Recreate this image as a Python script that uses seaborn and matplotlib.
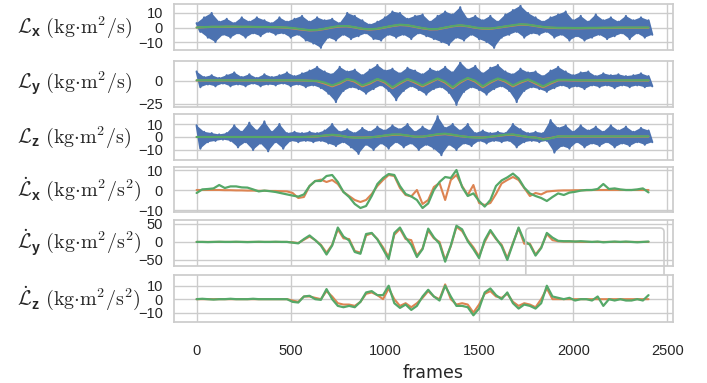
import numpy as np
import pandas as pd
import matplotlib
matplotlib.use("Agg")
import matplotlib.pyplot as plt
from matplotlib.patches import FancyBboxPatch
import seaborn as sns

frames_up = list(range(0, 2401, 40))      # upper edge of the noisy raw signal
frames_lo = list(range(20, 2421, 40))     # lower edge of the noisy raw signal
frames_smooth = list(range(0, 2401, 40))  # smoothed momentum curves
frames_deriv = list(range(0, 2401, 30))   # derivative curves

# L_x
lx_up = [3, 7, 10, 4, 6, 3, 7, 4, 7, 5, 3, 7, 4, 6, 8, 4, 7, 5, 6, 3, 10, 8, 5, 2, 4, 7, 11, 10, 6, 8,
         9, 4, 8, 11, 9, 14, 6, 8, 5, 8, 4, 9, 12, 15, 10, 7, 4, 7, 9, 11, 5, 8, 4, 9, 5, 7, 4, 8, 5, 7, 5]
lx_lo = [-3, -7, -10, -5, -7, -4, -7, -4, -6, -3, -5, -4, -7, -5, -9, -11, -14, -7, -9, -5, -8, -6, -4, -8,
         -9, -5, -7, -5, -8, -4, -6, -8, -10, -12, -7, -9, -5, -8, -10, -14, -7, -5, -3, -7, -4, -5, -3, -7,
         -5, -9, -6, -9, -7, -5, -8, -6, -4, -8, -4, -7, -5]
lx_orange = [0, 0.2, 0.4, 0.4, 0.5, 0.5, 0.4, 0.4, 0.3, 0.3, 0.2, 0.1, -0.2, -0.8, -1.5, -2, -1.8, -1, 0, 0.7,
             0.8, 0, -1, -1.4, -1, 0, 1, 1.7, 1.4, 0.4, -0.6, -1.3, -1.2, -0.2, 0.8, 1.4, 0.8, -0.2, -0.8, -0.9,
             -0.2, 0.6, 1.3, 2, 1.8, 1, 0.2, -0.2, -0.4, -0.4, -0.5, -0.5, -0.4, -0.4, -0.3, -0.3, -0.2, -0.2,
             -0.2, -0.2, -0.2]
lx_green = [0, 0.3, 0.5, 0.5, 0.6, 0.6, 0.5, 0.5, 0.4, 0.4, 0.3, 0.2, 0, -0.5, -1.2, -1.8, -1.6, -0.8, 0.3, 1,
            1, 0.2, -0.8, -1.2, -0.8, 0.2, 1.2, 2, 1.6, 0.6, -0.4, -1.1, -1, 0, 1, 1.6, 1, 0, -0.6, -0.7,
            0, 0.8, 1.6, 2.3, 2, 1.2, 0.4, 0, -0.2, -0.2, -0.3, -0.3, -0.2, -0.2, -0.1, -0.1, 0, 0, 0, 0, 0]

# L_y
ly_up = [10, 4, 6, 3, 6, 9, 4, 7, 3, 7, 4, 6, 9, 5, 8, 11, 15, 10, 7, 15, 10, 12, 6, 12, 17, 11, 13, 8, 14, 11,
         7, 13, 10, 15, 9, 20, 12, 16, 8, 14, 17, 10, 7, 13, 9, 10, 5, 11, 15, 10, 6, 9, 10, 5, 8, 6, 7, 5, 6, 8, 5]
ly_lo = [-7, -4, -6, -3, -6, -4, -6, -3, -6, -4, -5, -3, -6, -4, -7, -5, -8, -14, -23, -11, -7, -9, -14, -9,
         -5, -11, -21, -11, -6, -10, -15, -9, -7, -13, -26, -12, -7, -10, -15, -9, -6, -11, -23, -11, -7, -9,
         -12, -8, -5, -8, -6, -9, -5, -7, -5, -8, -5, -7, -5, -7, -6]
ly_orange = [0.3] * 15 + [0, -0.5, -3, -6, -3, 1.5, -1, -6, -3, 1.5, -2, -8, -3, 1.5, -2, -6, -2, 2, -2, -8, -2,
                          2.5, -1, -7, -2, 2, -1, -6, -2, 1, -3, -7, -3, 0.5] + \
            [0.5, 0.3, 0.2, 0.2, 0.2, 0.2, 0.2, 0.2, 0.2, 0.2, 0.2, 0.2]
ly_green = [0.5] * 15 + [0, 0, -2, -5, -2, 2, 0, -5, -2, 2, -1, -7, -2, 2, -1, -5, -1, 2.5, -1, -7, -1, 3, 0,
                         -6, -1, 2.5, 0, -5, -1, 1.5, -2, -6, -2, 1] + \
           [1, 0.8, 0.5, 0.5, 0.5, 0.5, 0.5, 0.5, 0.5, 0.5, 0.5, 0.5]

# L_z
lz_up = [9, 4, 3, 2, 3, 9, 4, 11, 5, 12, 4, 10, 3, 4, 3, 4, 3, 5, 10, 4, 6, 3, 7, 4, 8, 5, 9, 6, 10, 4,
         8, 5, 16, 7, 10, 5, 10, 3, 5, 3, 4, 3, 10, 6, 3, 4, 3, 13, 7, 9, 4, 9, 5, 8, 4, 9, 5, 8, 4, 7, 5]
lz_lo = [-9, -4, -3, -2, -3, -8, -4, -10, -5, -11, -4, -9, -3, -4, -3, -4, -3, -5, -7, -4, -8, -13, -6, -10,
         -5, -9, -4, -8, -5, -10, -6, -9, -14, -6, -10, -5, -7, -3, -5, -3, -4, -3, -8, -4, -3, -4, -3, -12,
         -7, -9, -4, -8, -5, -7, -4, -8, -5, -7, -4, -6, -4]
lz_orange = [0] * 15 + [0.1, 0.4, 1, 1.5, 1, 0, -0.4, -0.4, -0.2, 0.2, 1, 1.6, 1.7, 1, 0.2, 0.2, 1, 1.8, 2.2,
                        1.5, 0.6, 0, -0.3, -0.4, 0.1, 0.8, 1.5, 1.7, 0.8, 0, -0.4, -1.6, -0.8, 0.4] + [0.3] * 12
lz_green = [0] * 15 + [0.2, 0.5, 1.2, 1.8, 1.2, 0, -0.5, -0.5, -0.3, 0.3, 1.2, 2, 2, 1.2, 0.2, 0.3, 1.2, 2.2,
                       2.6, 1.8, 0.8, 0, -0.4, -0.5, 0.2, 1, 1.8, 2, 1, 0, -0.5, -2, -1, 0.5] + [0.5] * 12

# dL_x/dt
dlx_orange = [0, 0, 0, 0, 0, -0.1, -0.1, -0.2, -0.2, -0.3, -0.3, -0.4, -0.4, -0.5, -0.5, -0.6, -0.7,
              -1.5, -4, -3.5, 2, 4.5, 5.2, 4, 5, 3, -1, -3, -5, -6, -5, -2, 2, 5, 7.5, 7, 1, -2.5, -3.2, 0,
              -7, -5, 1.5, 3.5, -5, 5, 7.5, 2, -2.5, 2.5, -6.5, -7.5, -6.5, -2, 3.3, 5, 6.5, 5, 1, -3, -1.5,
              -2.2, -0.8, -0.5, -0.3,
              -0.2, -0.2, -0.1, -0.1, -0.1, 0, 0, 0, 0, 0, 0, 0, 0, 0, 0, 0]
dlx_green = [-1.5, 0.3, 0.5, 0.8, 2.5, 1, 1.8, 1.8, 1.3, 1.2, 0.3, -0.7, -0.3, -0.6, -1, -1.6, -2.2, -2.8,
             -3.3, -2.2, 2, 4.5, 4.5, 7, 7.5, 4, -1, -3.5, -7, -9, -8, -3, 3, 6, 8, 7.5, 2, -2, -3.2, -5, -9,
             -6.7, 0, 4, 6.5, 6, 10, 1.5, -3, -1.7, -5.5, -8.3, -5, 2, 4.8, 6.3, 8.2, 5.8, 1.2, -1.7, -3, -4,
             -5.5, -3.5, -1.7, -2.5, -1.3, -0.9, -0.3, 0, 0, 0.5, 3, 0.5, 0.8, 0.3, 0, 0, 0.3, 0.8, -1.2]

# dL_y/dt
dly_orange = [0] * 17 + [-1, -3, 6, 15, 5, -8, -30, -8, 35, 10, 8, -25, -30, 18, 24, 8, -15, -42, 20, 36, 8, 5,
                         -38, -18, 32, 10, 0, -50, -12, 42, 30, 5, -15, -40, 0, 30, 8, -8, -45, -3, 38, -5, -5,
                         -35, -15, 22, 5, 2] + [1, 1, 1, 0, 0, 0, 0, 0, 0, 0, 0, 0, 0, 0, 0, 0]
dly_green = [0, 0, -0.5, 0, 0.5, 0, 0, 0.5, 0, -0.5, 0, 0.5, 0, 0, 0.5, 0, 0] + \
            [-2, -4, 8, 18, 5, -10, -35, -10, 40, 15, 4, -28, -33, 22, 25, 7, -20, -48, 25, 40, 12, -8, -42,
             -20, 37, 13, -5, -55, -10, 45, 35, 2, -20, -45, 5, 33, 10, -12, -50, -5, 40, 3, -8, -38, -17, 25,
             12, 3] + [2, 2, 1, 2, 1, 0, 1, -1, 0, 1, 0, 1, 0, -1, 0, 1]

# dL_z/dt
dlz_orange = [0] * 17 + [-1, -2, 2, 2, 1, 0, 6, 2, -3, -4, -4, -5, -2, 4, 5, 3, 0, 8, 0, -5, -3, -6, -3, 1, 6,
                         2, 0, 11, 0, -4, -3, -4, -10, -4, 4, 6, 2, 1, 4, -2, -5, -3, -4, -6, 0, 8, 0, 0] + [0] * 16
dlz_green = [0, 0.3, 0, -0.3, 0, 0, 0.3, 0, 0, 0, 0.3, 0, 0, 0, 0, 0, 0] + \
            [-2, -2.5, 2, 2.5, 0, -0.5, 7.5, 0, -5, -6, -5, -6, -2, 5, 6, 3, 3, 10, -3, -6.5, -4, -8, -5, 2, 7,
             2, -1, 10, 2, -5, -5, -6, -12, -7, 5, 8, 3, 0, 5, -3, -7, -4, -5, -7, -3, 10, 2, 1] + \
            [0, 1, -1, 0, 0, -1, 2, -5, 0, -1, 0, -1, -1, 0, -1, 3]

labels = [
    r'$\mathcal{L}_{\mathbf{x}}\ (\mathrm{kg{\cdot}m^2/s})$',
    r'$\mathcal{L}_{\mathbf{y}}\ (\mathrm{kg{\cdot}m^2/s})$',
    r'$\mathcal{L}_{\mathbf{z}}\ (\mathrm{kg{\cdot}m^2/s})$',
    r'$\dot{\mathcal{L}}_{\mathbf{x}}\ (\mathrm{kg{\cdot}m^2/s^2})$',
    r'$\dot{\mathcal{L}}_{\mathbf{y}}\ (\mathrm{kg{\cdot}m^2/s^2})$',
    r'$\dot{\mathcal{L}}_{\mathbf{z}}\ (\mathrm{kg{\cdot}m^2/s^2})$',
]

sns.set_theme(style='whitegrid')
plt.rcParams['font.family'] = ['Liberation Sans', 'DejaVu Sans']
plt.rcParams['mathtext.fontset'] = 'custom'
plt.rcParams['mathtext.rm'] = 'cmr10'
plt.rcParams['mathtext.cal'] = 'cmsy10'
plt.rcParams['mathtext.bf'] = 'Liberation Sans:bold'
plt.rcParams['xtick.labelsize'] = 10.5
plt.rcParams['ytick.labelsize'] = 10.5

blue, orange, green = sns.color_palette('deep')[:3]

W, H = 707, 383
panels_px = [(4, 50), (61, 107), (114, 160), (167, 212), (220, 266), (275, 322)]
ylims = [(-15.5, 16.2), (-28.3, 21.3), (-17.7, 17.7), (-11, 11.5), (-67, 61), (-17, 18)]
yticks = [[-10, 0, 10], [-25, 0], [-10, 0, 10], [-10, 0, 10], [-50, 0, 50], [-10, 0, 10]]

fig = plt.figure(figsize=(W / 100, H / 100), dpi=100)
axes = []
for top, bot in panels_px:
    rect = [174 / W, 1 - bot / H, (673 - 174) / W, (bot - top) / H]
    ax = fig.add_axes(rect, sharex=axes[0] if axes else None)
    axes.append(ax)

raw = [(lx_up, lx_lo), (ly_up, ly_lo), (lz_up, lz_lo)]
smooth = [(lx_orange, lx_green), (ly_orange, ly_green), (lz_orange, lz_green)]
deriv = [(dlx_orange, dlx_green), (dly_orange, dly_green), (dlz_orange, dlz_green)]

for ax, (up, lo), (orr, gr) in zip(axes[:3], raw, smooth):
    # raw noisy signal: zigzag between upper and lower edges, filled in
    zig = pd.DataFrame({'frame': np.ravel(np.column_stack([frames_up, frames_lo])),
                        'value': np.ravel(np.column_stack([up, lo]))})
    ax.fill(np.r_[frames_up, frames_lo[::-1]], np.r_[up, lo[::-1]], color=blue, lw=0)
    sns.lineplot(data=zig, x='frame', y='value', ax=ax, color=blue, linewidth=1.5, estimator=None)
    sns.lineplot(x=frames_smooth, y=orr, ax=ax, color=orange, linewidth=1.5, estimator=None)
    sns.lineplot(x=frames_smooth, y=gr, ax=ax, color=green, linewidth=1.5, estimator=None)

for ax, (orr, gr) in zip(axes[3:], deriv):
    sns.lineplot(x=frames_deriv, y=orr, ax=ax, color=orange, linewidth=1.5, estimator=None,
                 solid_joinstyle='round')
    sns.lineplot(x=frames_deriv, y=gr, ax=ax, color=green, linewidth=1.6, estimator=None,
                 solid_joinstyle='round')

for i, ax in enumerate(axes):
    ax.set_xlim(-120, 2530)
    ax.set_xticks([0, 500, 1000, 1500, 2000, 2500])
    ax.set_ylim(*ylims[i])
    ax.set_yticks(yticks[i])
    ax.set_xlabel('')
    ax.set_ylabel(labels[i], rotation=0, ha='left', va='center', fontsize=14.5)
    ax.yaxis.set_label_coords((17 - 174) / (673 - 174), 0.5)
    ax.tick_params(axis='y', pad=2)
    if i < 5:
        ax.tick_params(axis='x', labelbottom=False)
    else:
        ax.tick_params(axis='x', pad=10)

# empty legend frame left over in the fifth panel
ax5 = axes[4]
box = FancyBboxPatch((0.705, -0.6), 0.277, 1.426, boxstyle='round,pad=0,rounding_size=0.008',
                     mutation_aspect=10.85, transform=ax5.transAxes, clip_on=False,
                     facecolor='none', edgecolor='0.8', linewidth=1.2, zorder=5)
ax5.add_patch(box)

fig.text(433 / W, 1 - 378 / H, 'frames', ha='center', va='baseline', fontsize=12.5, family='DejaVu Sans')

fig.savefig('out.png', dpi=100)
